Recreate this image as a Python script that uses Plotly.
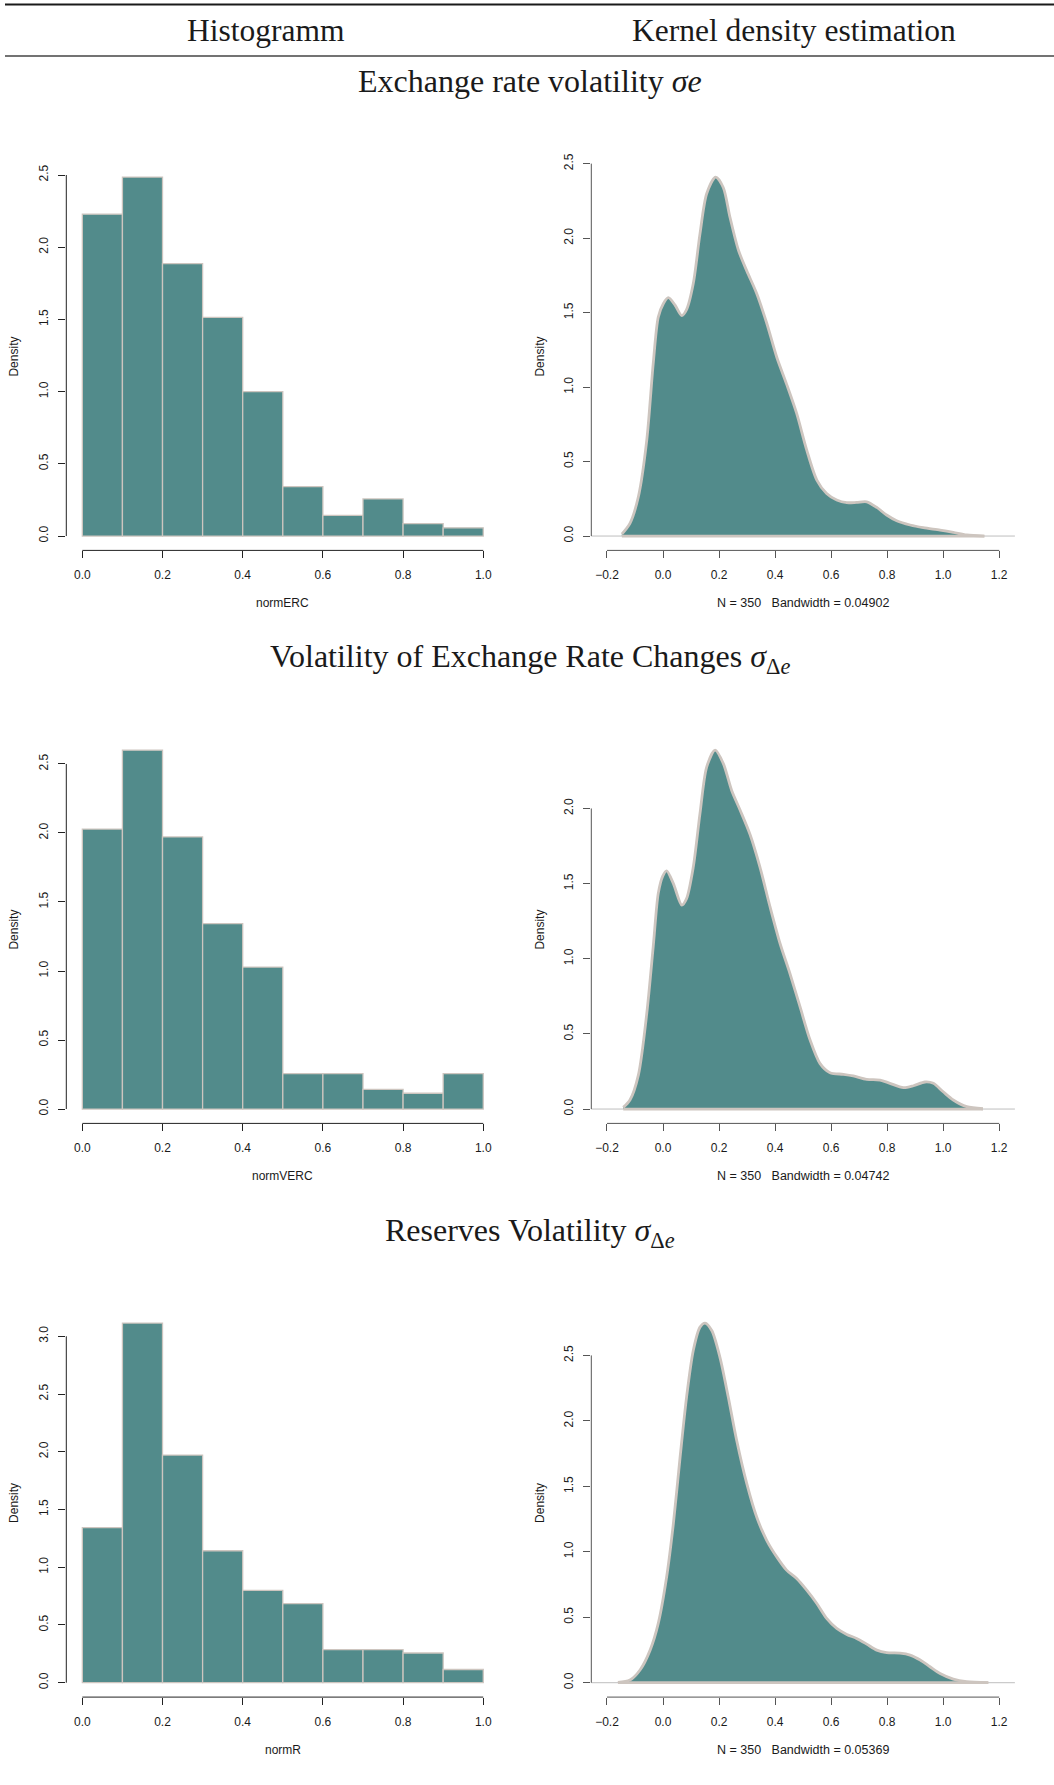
import plotly.graph_objects as go

W, H = 1054, 1785

# ---------------------------------------------------------------- data
N_OBS = 350
BREAKS = [0.0, 0.1, 0.2, 0.3, 0.4, 0.5, 0.6, 0.7, 0.8, 0.9, 1.0]

# observations per histogram bin
counts_erc = [78, 87, 66, 53, 35, 12, 5, 9, 3, 2]
counts_verc = [71, 91, 69, 47, 36, 9, 9, 5, 4, 9]
counts_r = [47, 109, 69, 40, 28, 24, 10, 10, 9, 4]

# kernel density curves
kde_erc_x = [-0.147, -0.118, -0.088, -0.058, -0.035, -0.017, 0.001, 0.019, 0.043, 0.067,
             0.084, 0.108, 0.132, 0.156, 0.188, 0.215, 0.239, 0.269, 0.299, 0.334,
             0.370, 0.406, 0.441, 0.477, 0.513, 0.549, 0.584, 0.620, 0.656, 0.691,
             0.727, 0.763, 0.798, 0.834, 0.882, 0.929, 0.989, 1.036, 1.084, 1.147]
kde_erc_y = [0.013, 0.085, 0.264, 0.644, 1.158, 1.47, 1.56, 1.60, 1.55, 1.48,
             1.52, 1.695, 2.03, 2.30, 2.41, 2.34, 2.14, 1.92, 1.78, 1.63,
             1.43, 1.20, 1.02, 0.823, 0.577, 0.376, 0.286, 0.242, 0.224, 0.226,
             0.230, 0.192, 0.141, 0.103, 0.074, 0.056, 0.040, 0.025, 0.007, 0.0]

kde_verc_x = [-0.142, -0.118, -0.088, -0.058, -0.035, -0.017, -0.001, 0.013, 0.037, 0.067,
              0.084, 0.108, 0.132, 0.156, 0.186, 0.215, 0.245, 0.275, 0.310, 0.346,
              0.382, 0.418, 0.453, 0.489, 0.525, 0.560, 0.596, 0.644, 0.679, 0.727,
              0.775, 0.810, 0.858, 0.894, 0.935, 0.965, 1.000, 1.036, 1.084, 1.142]
kde_verc_y = [0.011, 0.06, 0.226, 0.636, 1.08, 1.435, 1.55, 1.585, 1.50, 1.357,
              1.40, 1.61, 1.967, 2.277, 2.388, 2.30, 2.12, 1.99, 1.83, 1.61,
              1.346, 1.10, 0.902, 0.681, 0.459, 0.304, 0.242, 0.231, 0.220, 0.197,
              0.193, 0.171, 0.142, 0.155, 0.180, 0.171, 0.115, 0.060, 0.0155, 0.002]

kde_r_x = [-0.161, -0.118, -0.082, -0.046, -0.017, 0.013, 0.037, 0.061, 0.084, 0.108,
           0.132, 0.150, 0.174, 0.203, 0.233, 0.263, 0.299, 0.334, 0.370, 0.406,
           0.441, 0.477, 0.513, 0.549, 0.584, 0.620, 0.656, 0.691, 0.727, 0.763,
           0.798, 0.846, 0.882, 0.918, 0.953, 0.989, 1.036, 1.084, 1.161]
kde_r_y = [0.0025, 0.02, 0.097, 0.249, 0.453, 0.809, 1.216, 1.724, 2.18, 2.538,
           2.716, 2.747, 2.69, 2.487, 2.18, 1.85, 1.52, 1.267, 1.088, 0.961,
           0.86, 0.796, 0.707, 0.605, 0.491, 0.415, 0.369, 0.338, 0.295, 0.249,
           0.229, 0.226, 0.211, 0.173, 0.122, 0.071, 0.028, 0.008, 0.0]

bandwidths = ["0.04902", "0.04742", "0.05369"]
var_names = ["normERC", "normVERC", "normR"]

hist_xticks = [0.0, 0.2, 0.4, 0.6, 0.8, 1.0]
kde_xticks = [-0.2, 0.0, 0.2, 0.4, 0.6, 0.8, 1.0, 1.2]
hist_yticks = [[0.0, 0.5, 1.0, 1.5, 2.0, 2.5],
               [0.0, 0.5, 1.0, 1.5, 2.0, 2.5],
               [0.0, 0.5, 1.0, 1.5, 2.0, 2.5, 3.0]]
kde_yticks = [[0.0, 0.5, 1.0, 1.5, 2.0, 2.5],
              [0.0, 0.5, 1.0, 1.5, 2.0],
              [0.0, 0.5, 1.0, 1.5, 2.0, 2.5]]

column_heads = ["Histogramm", "Kernel density estimation"]
row_titles = ["Exchange rate volatility <i>σe</i>",
              "Volatility of Exchange Rate Changes <i>σ</i><sub>Δ<i>e</i></sub>",
              "Reserves Volatility <i>σ</i><sub>Δ<i>e</i></sub>"]

# ---------------------------------------------------------------- styling
FILL = "#528B8B"
EDGE = "#CDC5BF"
ZERO = "#BEBEBE"
AX_H = "#222222"
AX_K = "#555555"
TXT = "#1a1a1a"
SANS = "Liberation Sans, Arial, sans-serif"
SERIF = "Liberation Serif, Times New Roman, serif"

ROWS = [(162.7, 550.4), (735.8, 1123.4), (1308.7, 1697.1)]   # plot region top/bottom (px)
HIST_X = (66.3, 499.3)
KDE_X = (591.3, 1014.9)
TITLE_Y = [81, 658, 1232]


def fx(p):
    return p / W


def fy(p):
    return 1 - p / H


def label(text, x, y, size, family=SANS, angle=0):
    return dict(text=text, x=fx(x), y=fy(y), xref="paper", yref="paper",
                xanchor="center", yanchor="middle", showarrow=False,
                textangle=angle, font=dict(family=family, size=size, color=TXT))


fig = go.Figure()
layout = dict(width=W, height=H, autosize=False,
              margin=dict(l=0, r=0, t=0, b=0, pad=0, autoexpand=False),
              paper_bgcolor="white", plot_bgcolor="white",
              showlegend=False, hovermode=False)
shapes, annotations = [], []

all_counts = [counts_erc, counts_verc, counts_r]
all_kde = [(kde_erc_x, kde_erc_y), (kde_verc_x, kde_verc_y), (kde_r_x, kde_r_y)]

centers = [(a + b) / 2 for a, b in zip(BREAKS[:-1], BREAKS[1:])]
widths = [b - a for a, b in zip(BREAKS[:-1], BREAKS[1:])]


def axis_pair(idx, xdom, ydom, xrng, yrng, xticks, yticks, axcol):
    sx = "" if idx == 1 else str(idx)
    common = dict(showgrid=False, zeroline=False, showline=False, automargin=False,
                  ticks="outside", ticklen=7, tickwidth=1, tickcolor=axcol,
                  tickfont=dict(family=SANS, size=12, color=TXT),
                  tickformat=".1f", tickmode="array", fixedrange=True)
    layout["xaxis" + sx] = dict(domain=[fx(xdom[0]), fx(xdom[1])], range=list(xrng),
                                anchor="y" + sx, tickvals=xticks,
                                ticklabelstandoff=6, **common)
    layout["yaxis" + sx] = dict(domain=[fy(ydom[1]), fy(ydom[0])], range=list(yrng),
                                anchor="x" + sx, tickvals=yticks, tickangle=-90,
                                ticklabelstandoff=6, **common)
    xr, yr = "x" + sx, "y" + sx
    # axis lines run from the first to the last tick only
    shapes.append(dict(type="line", xref=xr, yref=yr + " domain",
                       x0=xticks[0], x1=xticks[-1], y0=0, y1=0,
                       line=dict(color=axcol, width=1)))
    shapes.append(dict(type="line", xref=xr + " domain", yref=yr,
                       x0=0, x1=0, y0=yticks[0], y1=yticks[-1],
                       line=dict(color=axcol, width=1)))
    return xr, yr


idx = 1
for r in range(3):
    top, bot = ROWS[r]
    # histogram
    dens = [c / (N_OBS * w) for c, w in zip(all_counts[r], widths)]
    ymax = max(dens)
    span = BREAKS[-1] - BREAKS[0]
    xr, yr = axis_pair(idx, HIST_X, (top, bot),
                       (BREAKS[0] - 0.04 * span, BREAKS[-1] + 0.04 * span),
                       (-0.04 * ymax, 1.04 * ymax),
                       hist_xticks, hist_yticks[r], AX_H)
    fig.add_trace(go.Bar(x=centers, y=dens, width=widths, xaxis=xr, yaxis=yr,
                         marker=dict(color=FILL, line=dict(color=EDGE, width=1.3))))
    annotations.append(label("Density", 14, (top + bot) / 2, 12, angle=-90))
    annotations.append(label(var_names[r], sum(HIST_X) / 2, bot + 53, 12))
    idx += 1

    # kernel density
    kx, ky = all_kde[r]
    kmax = max(ky)
    xr, yr = axis_pair(idx, KDE_X, (top, bot), (-0.256, 1.256),
                       (-0.04 * kmax, 1.04 * kmax),
                       kde_xticks, kde_yticks[r], AX_K)
    shapes.append(dict(type="line", xref=xr + " domain", yref=yr, x0=0, x1=1,
                       y0=0, y1=0, layer="below", line=dict(color=ZERO, width=1)))
    fig.add_trace(go.Scatter(x=kx, y=ky, xaxis=xr, yaxis=yr, mode="lines",
                             fill="tozeroy", fillcolor=FILL,
                             line=dict(color=EDGE, width=2.8, shape="spline", smoothing=0.8)))
    fig.add_trace(go.Scatter(x=[kx[0], kx[-1]], y=[0, 0], xaxis=xr, yaxis=yr, mode="lines",
                             line=dict(color=EDGE, width=2.8)))
    annotations.append(label("Density", 540, (top + bot) / 2, 12, angle=-90))
    nb = "\u00a0"
    annotations.append(label(f"N = {N_OBS}{nb}{nb}{nb}Bandwidth = {bandwidths[r]}",
                             sum(KDE_X) / 2, bot + 53, 12.5))
    idx += 1

    annotations.append(label(row_titles[r], 530, TITLE_Y[r], 32, family=SERIF))

# table header
annotations.append(label(column_heads[0], 266, 30, 31.5, family=SERIF))
annotations.append(label(column_heads[1], 794, 30, 31.5, family=SERIF))
shapes.append(dict(type="line", xref="paper", yref="paper", x0=fx(5), x1=1,
                   y0=fy(4.5), y1=fy(4.5), line=dict(color="#1a1a1a", width=1.8)))
shapes.append(dict(type="line", xref="paper", yref="paper", x0=fx(5), x1=1,
                   y0=fy(56), y1=fy(56), line=dict(color="#444444", width=1.3)))

layout["shapes"] = shapes
layout["annotations"] = annotations
fig.update_layout(**layout)
fig.write_html("out.html")
